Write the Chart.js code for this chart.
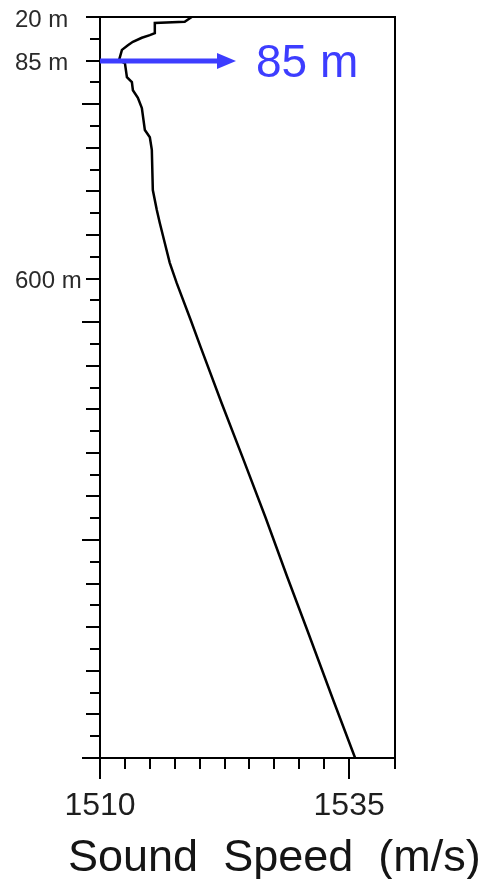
<!DOCTYPE html>
<html>
<head>
<meta charset="utf-8">
<script src="https://cdn.jsdelivr.net/npm/chart.js@4/dist/chart.umd.min.js"></script>
<style>
  html, body { margin: 0; padding: 0; background: #fff; }
  #c { display: block; }
</style>
</head>
<body>
<canvas id="c" width="480" height="879"></canvas>
<script>
// Sound-speed profile: depth (m) against sound speed (m/s)
const depths = [20, 27, 29, 44, 47, 51, 57, 62, 69, 85, 91, 124, 136, 155, 173, 197,
                249, 266, 296, 391, 438, 469, 516, 563, 611, 698, 762, 894, 1022,
                1164, 1306, 1431, 1596, 1733];
const speeds = [1519.2, 1518.5, 1515.5, 1515.5, 1515.0, 1514.2, 1513.3, 1512.8, 1512.2, 1511.9,
                1512.5, 1512.7, 1513.2, 1513.3, 1513.8, 1514.2, 1514.5, 1515.0, 1515.2, 1515.3,
                1515.7, 1516.0, 1516.5, 1517.0, 1517.7, 1519.1, 1520.1, 1522.2, 1524.3,
                1526.6, 1528.8, 1530.8, 1533.4, 1535.6];

// Axis ticks and labels
const speedLabelValues = [1510, 1535];
const speedMin = 1510;
const speedMax = 1539.6;
const speedStep = 2.5;
const depthLabelValues = [20, 85, 600];
// Depth axis: tick 0 = 20 m, tick 2 = 85 m, tick 12 = 600 m, same spacing below
const depthBreaks = [20, 85, 600];
const depthBreakTicks = [0, 2, 12];
const depthTickCount = 34;
const markedDepth = 85;

const FONT = '"Liberation Sans", Arial, Helvetica, sans-serif';

function segmentFor(arr, v) {
  let i = 0;
  while (i < arr.length - 2 && v > arr[i + 1]) i++;
  return i;
}
function depthToTick(d) {
  const i = segmentFor(depthBreaks, d);
  const d0 = depthBreaks[i], d1 = depthBreaks[i + 1];
  const t0 = depthBreakTicks[i], t1 = depthBreakTicks[i + 1];
  return t0 + (d - d0) / (d1 - d0) * (t1 - t0);
}
function tickToDepth(t) {
  const i = segmentFor(depthBreakTicks, t);
  const d0 = depthBreaks[i], d1 = depthBreaks[i + 1];
  const t0 = depthBreakTicks[i], t1 = depthBreakTicks[i + 1];
  return d0 + (t - t0) / (t1 - t0) * (d1 - d0);
}
const depthMax = tickToDepth(depthTickCount);

// Piecewise-linear depth scale (deeper values further down)
class DepthScale extends Chart.LinearScale {
  static id = 'depth';
  static defaults = {};
  buildTicks() {
    const ticks = [];
    for (let i = 0; i <= depthTickCount; i++) ticks.push({ value: tickToDepth(i) });
    this.start = this.min;
    this.end = this.max;
    return ticks;
  }
  getPixelForValue(v) {
    if (v === null || v === undefined) return NaN;
    return this.top + depthToTick(v) / depthTickCount * (this.bottom - this.top);
  }
  getValueForPixel(p) {
    return tickToDepth((p - this.top) / (this.bottom - this.top) * depthTickCount);
  }
}
Chart.register(DepthScale);

function isLabelled(list, v) {
  return list.some(l => Math.abs(l - v) < 1e-6);
}

// Box, tick marks, depth marker and axis title
const decorations = {
  id: 'decorations',
  afterDatasetsDraw(chart) {
    const { ctx, chartArea: a, scales: { x, y } } = chart;
    ctx.save();
    ctx.strokeStyle = '#000';
    ctx.lineWidth = 2;
    ctx.lineCap = 'butt';

    // plot frame
    ctx.beginPath();
    ctx.moveTo(a.left, a.top - 1); ctx.lineTo(a.left, a.bottom + 1);
    ctx.moveTo(a.left, a.top); ctx.lineTo(a.right, a.top);
    ctx.moveTo(a.right, a.top - 1); ctx.lineTo(a.right, a.bottom + 1);
    ctx.moveTo(a.left, a.bottom); ctx.lineTo(a.right + 1, a.bottom);
    ctx.stroke();

    // depth ticks: long every 10th (from tick 4), medium on even, short on odd
    ctx.beginPath();
    y.ticks.forEach((t, i) => {
      const py = Math.round(y.getPixelForTick(i));
      const len = (i % 10 === 4) ? 18 : (i % 2 === 0 ? 14 : 10);
      ctx.moveTo(a.left - len, py);
      ctx.lineTo(a.left, py);
    });
    // speed ticks
    x.ticks.forEach((t, i) => {
      const px = Math.round(x.getPixelForTick(i));
      const len = isLabelled(speedLabelValues, t.value) ? 21 : 11;
      ctx.moveTo(px, a.bottom);
      ctx.lineTo(px, a.bottom + len);
    });
    ctx.stroke();

    // depth marker arrow
    const ay = Math.round(y.getPixelForValue(markedDepth));
    const blue = '#3d3dff';
    ctx.strokeStyle = blue;
    ctx.fillStyle = blue;
    ctx.lineWidth = 5;
    ctx.beginPath();
    ctx.moveTo(a.left, ay);
    ctx.lineTo(a.left + 120, ay);
    ctx.stroke();
    ctx.beginPath();
    ctx.moveTo(a.left + 117, ay - 8);
    ctx.lineTo(a.left + 136, ay);
    ctx.lineTo(a.left + 117, ay + 8);
    ctx.closePath();
    ctx.fill();
    ctx.font = '46px ' + FONT;
    ctx.textAlign = 'left';
    ctx.textBaseline = 'alphabetic';
    ctx.fillText(markedDepth + ' m', a.left + 156, ay + 16);

    // axis title
    ctx.fillStyle = '#151515';
    ctx.font = '45px ' + FONT;
    ctx.fillText('Sound  Speed  (m/s)', 68, 871);
    ctx.restore();
  }
};

new Chart(document.getElementById('c'), {
  type: 'scatter',
  data: {
    datasets: [{
      data: depths.map((d, i) => ({ x: speeds[i], y: d })),
      showLine: true,
      borderColor: '#000',
      borderWidth: 2.5,
      pointRadius: 0,
      tension: 0,
      clip: false
    }]
  },
  options: {
    responsive: false,
    animation: false,
    devicePixelRatio: 1,
    layout: { padding: { left: 15, top: 17, right: 85, bottom: 0 } },
    plugins: { legend: { display: false }, tooltip: { enabled: false } },
    scales: {
      x: {
        type: 'linear',
        position: 'bottom',
        min: speedMin,
        max: speedMax,
        grid: { display: false, drawTicks: false },
        border: { display: false },
        ticks: {
          stepSize: speedStep,
          autoSkip: false,
          maxRotation: 0,
          padding: 29,
          color: '#1e1e1e',
          font: { family: FONT, size: 32 },
          callback: v => isLabelled(speedLabelValues, v) ? String(v) : ''
        },
        afterFit: s => { s.height = 121; }
      },
      y: {
        type: 'depth',
        position: 'left',
        min: depthBreaks[0],
        max: depthMax,
        grid: { display: false, drawTicks: false },
        border: { display: false },
        ticks: {
          autoSkip: false,
          crossAlign: 'far',
          padding: 0,
          labelOffset: 3,
          color: '#2a2a2a',
          font: { family: FONT, size: 24 },
          callback: v => {
            const hit = depthLabelValues.find(l => Math.abs(l - v) < 1e-6);
            return hit === undefined ? '' : hit + ' m';
          }
        },
        afterFit: s => { s.width = 85; }
      }
    }
  },
  plugins: [decorations]
});
</script>
</body>
</html>
